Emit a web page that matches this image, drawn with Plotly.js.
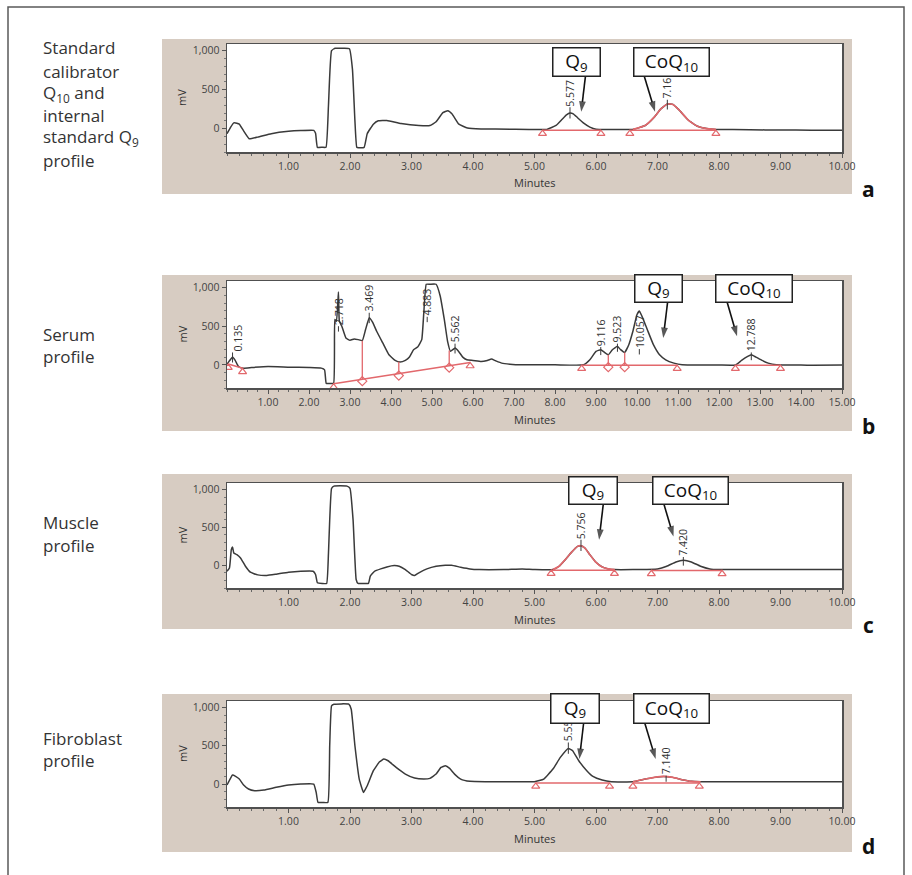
<!DOCTYPE html>
<html><head><meta charset="utf-8">
<script src="https://cdn.plot.ly/plotly-3.0.1.min.js"></script>
<style>html,body{margin:0;padding:0;background:#fff}#chart{width:912px;height:875px}</style>
</head><body><div id="chart"></div>
<script>
// ---------------- DATA ----------------
// Panel a: standard calibrator Q10 + internal standard Q9
const aMin = [0,0.06,0.11,0.16,0.2,0.27,0.36,0.5,0.72,1.0,1.2,1.41,1.44,1.47,1.55,1.61,1.65,1.7,1.76,1.9,1.99,2.04,2.08,2.11,2.14,2.23,2.28,2.38,2.46,2.6,2.83,3.12,3.3,3.4,3.51,3.59,3.66,3.77,3.91,4.13,4.6,5.2,5.35,5.45,5.52,5.577,5.63,5.7,5.8,5.9,6.0,6.3,6.6,6.8,6.95,7.05,7.16,7.25,7.35,7.5,7.65,7.8,7.95,8.5,9.0,9.5,10.0];
const aMv  = [-65,20,74,70,57,-30,-130,-109,-65,-35,-25,-22,-60,-240,-240,-240,300,1000,1030,1030,1025,760,100,-240,-245,-240,-65,57,100,105,65,39,39,87,204,230,187,57,9,-4,-8,-10,40,120,175,200,190,140,70,20,-8,-10,-10,40,150,250,315,310,240,110,30,0,-10,-15,-18,-20,-22];
const aRed = [6.55, 7.95];
const aBaseX0 = [5.13, 6.55], aBaseY0 = [-20, -20];
const aBaseX1 = [6.08, 7.95], aBaseY1 = [-20, -20];
const aPeakX = [5.577, 7.16], aPeakApex = [200, 315], aPeakLabelY = [274, 370];
const aPeakText = ['5.577', '7.16'];

// Panel b: serum
const bMin = [0,0.08,0.135,0.2,0.28,0.4,0.6,1.0,1.5,2.0,2.3,2.38,2.42,2.5,2.6,2.63,2.67,2.718,2.74,2.8,2.9,3.0,3.1,3.2,3.3,3.38,3.469,3.55,3.65,3.8,3.95,4.1,4.22,4.35,4.45,4.55,4.65,4.75,4.8,4.86,4.95,5.1,5.2,5.3,5.38,5.45,5.562,5.65,5.75,5.85,6.0,6.2,6.35,6.45,6.55,6.7,6.9,7.2,8.0,8.7,8.85,9.0,9.116,9.2,9.3,9.4,9.523,9.6,9.7,9.8,9.9,10.0,10.057,10.12,10.25,10.4,10.55,10.7,10.9,11.1,12.0,12.4,12.55,12.7,12.788,12.9,13.05,13.2,13.4,14.0,14.3,15.0];
const bMv  = [9,65,100,57,-22,-43,-35,-22,-30,-35,-43,-65,-240,-242,-240,587,565,943,565,500,348,317,335,326,313,457,609,552,435,283,130,57,35,57,100,196,230,326,674,1043,1043,1043,891,587,304,174,217,174,100,65,57,43,57,74,52,22,9,0,0,0,65,174,196,165,130,196,239,196,161,261,435,652,696,630,457,261,130,65,22,0,-3,-3,57,109,130,100,57,22,0,-3,-5,-3];
const bBaseX0 = [0.03, 2.6, 8.65, 12.4], bBaseY0 = [10, -245, -5, -5];
const bBaseX1 = [0.38, 5.93, 10.98, 13.5], bBaseY1 = [-45, 30, -5, -5];
const bDropX = [3.3, 4.19, 5.42, 9.3, 9.7];
const bDropTop = [313, 40, 185, 130, 161];
const bDropBottom = [-187, -114, -12, -5, -5];
const bPeakX = [0.135, 2.718, 3.469, 4.883, 5.562, 9.116, 9.523, 10.057, 12.788];
const bPeakApex = [100, 943, 609, 1043, 217, 196, 239, 696, 130];
const bPeakLabelY = [160, 500, 674, 622, 274, 230, 274, 204, 160];
const bPeakText = ['0.135','2.718','3.469','4.883','5.562','9.116','9.523','10.057','12.788'];

// Panel c: muscle
const cMin = [0,0.04,0.07,0.09,0.11,0.16,0.22,0.3,0.38,0.5,0.65,0.8,1.0,1.2,1.4,1.44,1.47,1.55,1.62,1.65,1.7,1.74,1.95,2.0,2.05,2.1,2.13,2.22,2.3,2.33,2.4,2.5,2.6,2.72,2.8,2.9,3.0,3.05,3.12,3.25,3.4,3.55,3.65,3.8,3.95,4.1,4.5,4.8,5.0,5.3,5.4,5.5,5.6,5.7,5.756,5.82,5.9,6.0,6.1,6.2,6.3,6.6,7.0,7.15,7.3,7.42,7.55,7.7,7.85,8.0,8.5,9.0,9.5,10.0];
const cMv  = [-79,-35,205,240,162,140,96,-13,-92,-127,-135,-118,-92,-79,-79,-122,-231,-240,-240,162,1013,1044,1044,1013,598,-188,-240,-240,-240,-144,-79,-48,-22,-4,-13,-57,-122,-135,-100,-48,-13,0,0,-26,-48,-57,-57,-50,-57,-57,-13,74,170,249,258,227,140,39,-22,-48,-57,-57,-48,-13,44,65,44,-13,-48,-57,-57,-55,-57,-57];
const cRed = [5.27, 6.3];
const cBaseX0 = [5.27, 6.9], cBaseY0 = [-65, -68];
const cBaseX1 = [6.3, 8.05], cBaseY1 = [-65, -68];
const cPeakX = [5.756, 7.42], cPeakApex = [258, 65], cPeakLabelY = [336, 109];
const cPeakText = ['5.756', '7.420'];

// Panel d: fibroblast
const dMin = [0,0.05,0.09,0.14,0.2,0.27,0.35,0.45,0.6,0.8,1.0,1.2,1.41,1.45,1.48,1.56,1.64,1.67,1.7,1.74,1.98,2.02,2.08,2.15,2.22,2.28,2.38,2.48,2.55,2.62,2.75,2.9,3.05,3.2,3.3,3.4,3.48,3.55,3.62,3.7,3.8,3.95,4.2,4.6,5.0,5.15,5.3,5.42,5.55,5.62,5.72,5.85,5.95,6.1,6.25,6.6,6.8,6.95,7.1,7.25,7.4,7.55,7.7,8.5,9.0,9.5,10.0];
const dMv  = [-13,65,117,100,65,-13,-65,-87,-78,-43,-13,0,0,-109,-240,-240,-240,500,1022,1043,1043,978,500,65,-109,-22,174,291,326,304,217,130,78,65,74,130,217,239,204,130,65,35,30,30,30,65,196,348,465,435,304,174,100,52,30,30,65,87,100,87,57,35,30,30,30,30,30];
const dRed = [6.6, 7.7];
const dBaseX0 = [5.02, 6.6], dBaseY0 = [14, 14];
const dBaseX1 = [6.22, 7.68], dBaseY1 = [14, 14];
const dPeakX = [5.55, 7.14], dPeakApex = [465, 100], dPeakLabelY = [543, 109];
const dPeakText = ['5.55', '7.140'];

const xTicks10 = [1,2,3,4,5,6,7,8,9,10];
const xTicks15 = [1,2,3,4,5,6,7,8,9,10,11,12,13,14,15];
const yTicks = [0, 500, 1000];
const yTickText = ['0', '500', '1,000'];

// ---------------- STYLE / LAYOUT ----------------
const W = 912, H = 875;
const FONT = 'Open Sans, DejaVu Sans, sans-serif';
const INK = '#3a3a3a', RED = '#e2686c', BEIGE = '#d7ccc2';
const px = v => v / W, py = v => 1 - v / H;
const PLOT_X = [227, 842];
const panels = [
  {plot:[44,152],  bg:[39,194],  xmax:10, ticks:xTicks10, letter:'a', letterY:189},
  {plot:[281,388], bg:[275,431], xmax:15, ticks:xTicks15, letter:'b', letterY:426},
  {plot:[483,588], bg:[474,629], xmax:10, ticks:xTicks10, letter:'c', letterY:625},
  {plot:[701,807], bg:[694,852], xmax:10, ticks:xTicks10, letter:'d', letterY:846}
];
const YR = [-300, 1085];
const MOFF = 45; // marker offset below baselines (mV)

const data = [
  {min:aMin, mv:aMv, red:aRed, bx0:aBaseX0, by0:aBaseY0, bx1:aBaseX1, by1:aBaseY1, pk:aPeakX, ap:aPeakApex, ly:aPeakLabelY, pt:aPeakText},
  {min:bMin, mv:bMv, red:null, bx0:bBaseX0, by0:bBaseY0, bx1:bBaseX1, by1:bBaseY1, pk:bPeakX, ap:bPeakApex, ly:bPeakLabelY, pt:bPeakText,
   dropX:bDropX, dropTop:bDropTop, dropBot:bDropBottom},
  {min:cMin, mv:cMv, red:cRed, bx0:cBaseX0, by0:cBaseY0, bx1:cBaseX1, by1:cBaseY1, pk:cPeakX, ap:cPeakApex, ly:cPeakLabelY, pt:cPeakText},
  {min:dMin, mv:dMv, red:dRed, bx0:dBaseX0, by0:dBaseY0, bx1:dBaseX1, by1:dBaseY1, pk:dPeakX, ap:dPeakApex, ly:dPeakLabelY, pt:dPeakText}
];

// annotation boxes (centre in data units, size in px) and arrows (tail -> tip)
const boxes = [
  [{t:'Q<sub>9</sub>', cx:5.675, cy:857, w:46, h:27, tx:5.83, ty:683, hx:5.76, hy:217},
   {t:'CoQ<sub>10</sub>', cx:7.235, cy:857, w:74, h:27, tx:6.78, ty:683, hx:6.96, hy:217}],
  [{t:'Q<sub>9</sub>', cx:10.525, cy:989, w:46, h:26, tx:10.75, ty:826, hx:10.64, hy:348},
   {t:'CoQ<sub>10</sub>', cx:12.865, cy:989, w:75, h:26, tx:12.19, ty:826, hx:12.44, hy:370}],
  [{t:'Q<sub>9</sub>', cx:5.95, cy:980, w:47, h:26, tx:6.12, ty:817, hx:6.05, hy:336},
   {t:'CoQ<sub>10</sub>', cx:7.53, cy:980, w:74, h:26, tx:7.1, ty:817, hx:7.26, hy:380}],
  [{t:'Q<sub>9</sub>', cx:5.66, cy:989, w:47, h:28, tx:5.8, ty:804, hx:5.73, hy:326},
   {t:'CoQ<sub>10</sub>', cx:7.22, cy:989, w:74, h:28, tx:6.79, ty:804, hx:6.97, hy:326}]
];

const sideLabels = [
  {lines:['Standard','calibrator','Q<sub>10</sub> and','internal','standard Q<sub>9</sub>','profile'], ys:[48,71,93,116,138,161]},
  {lines:['Serum','profile'], ys:[335,357]},
  {lines:['Muscle','profile'], ys:[522,545]},
  {lines:['Fibroblast','profile'], ys:[738,760]}
];

const traces = [];
const layout = {
  width: W, height: H, margin:{l:0,r:0,t:0,b:0}, showlegend:false,
  paper_bgcolor:'#fff', plot_bgcolor:'#fff', shapes:[], annotations:[],
  font:{family:FONT, color:'#333'}
};

panels.forEach((p, i) => {
  const k = i + 1;
  const xa = k === 1 ? 'x' : 'x' + k, ya = k === 1 ? 'y' : 'y' + k;
  const xn = k === 1 ? 'xaxis' : 'xaxis' + k, yn = k === 1 ? 'yaxis' : 'yaxis' + k;
  const d = data[i];
  layout[xn] = {
    domain:[px(PLOT_X[0]), px(PLOT_X[1])], range:[0, p.xmax], anchor:ya,
    tickmode:'array', tickvals:p.ticks, ticktext:p.ticks.map(v => v.toFixed(2)),
    ticks:'outside', ticklen:4, tickwidth:1, tickcolor:'#555',
    minor:{tickmode:'linear', tick0:0, dtick: p.xmax === 15 ? 0.25 : 0.2, ticks:'outside', ticklen:2, tickcolor:'#666', showgrid:false},
    showline:true, linecolor:'#505050', linewidth:1.5, mirror:true,
    showgrid:false, zeroline:false, fixedrange:true,
    tickfont:{family:FONT, size:10.5, color:'#444'}
  };
  layout[yn] = {
    domain:[py(p.plot[1]), py(p.plot[0])], range:YR, anchor:xa,
    tickmode:'array', tickvals:yTicks, ticktext:yTickText,
    ticks:'outside', ticklen:4, tickwidth:1, tickcolor:'#555',
    minor:{tickmode:'linear', tick0:0, dtick:100, ticks:'outside', ticklen:2, tickcolor:'#777', showgrid:false},
    showline:true, linecolor:'#505050', linewidth:1.5, mirror:true,
    showgrid:false, zeroline:false, fixedrange:true,
    tickfont:{family:FONT, size:10.5, color:'#444'}
  };
  // backgrounds
  layout.shapes.push({type:'rect', xref:'paper', yref:'paper', layer:'below',
    x0:px(162), x1:px(852), y0:py(p.bg[1]), y1:py(p.bg[0]), fillcolor:BEIGE, line:{width:0}});
  layout.shapes.push({type:'rect', xref:'paper', yref:'paper', layer:'below',
    x0:px(PLOT_X[0]), x1:px(PLOT_X[1]), y0:py(p.plot[1]), y1:py(p.plot[0]), fillcolor:'#fff', line:{width:0}});

  // main chromatogram
  traces.push({x:d.min, y:d.mv, xaxis:xa, yaxis:ya, mode:'lines', hoverinfo:'skip',
    line:{color:INK, width:1.5, shape:'spline', smoothing:0.35}});
  // red integrated peak
  if (d.red) {
    const idx = d.min.map((v, j) => j).filter(j => d.min[j] >= d.red[0] && d.min[j] <= d.red[1]);
    traces.push({x:idx.map(j => d.min[j]), y:idx.map(j => d.mv[j]), xaxis:xa, yaxis:ya, mode:'lines', hoverinfo:'skip',
      line:{color:RED, width:1.6, shape:'spline', smoothing:0.35}});
  }
  // baselines
  const bx = [], by = [], tx = [], ty = [];
  d.bx0.forEach((v, j) => {
    bx.push(v, d.bx1[j], null); by.push(d.by0[j], d.by1[j], null);
    tx.push(v, d.bx1[j]); ty.push(d.by0[j] - MOFF, d.by1[j] - MOFF);
  });
  traces.push({x:bx, y:by, xaxis:xa, yaxis:ya, mode:'lines', hoverinfo:'skip', line:{color:RED, width:1.5}});
  // drop lines & diamonds (serum)
  if (d.dropX) {
    const dx = [], dy = [];
    d.dropX.forEach((v, j) => { dx.push(v, v, null); dy.push(d.dropTop[j], d.dropBot[j], null); });
    traces.push({x:dx, y:dy, xaxis:xa, yaxis:ya, mode:'lines', hoverinfo:'skip', line:{color:RED, width:1.3}});
    traces.push({x:d.dropX, y:d.dropBot.map(v => v - 25), xaxis:xa, yaxis:ya, mode:'markers', hoverinfo:'skip',
      marker:{symbol:'diamond-open', size:7, color:RED, line:{width:1.2, color:RED}}});
  }
  traces.push({x:tx, y:ty, xaxis:xa, yaxis:ya, mode:'markers', hoverinfo:'skip',
    marker:{symbol:'triangle-up-open', size:7, color:RED, line:{width:1.2, color:RED}}});
  // peak apex ticks
  const kx = [], ky = [];
  d.pk.forEach((v, j) => { kx.push(v, v, null); ky.push(d.ly[j], Math.min(d.ap[j], d.ly[j]) - 70, null); });
  traces.push({x:kx, y:ky, xaxis:xa, yaxis:ya, mode:'lines', hoverinfo:'skip', line:{color:INK, width:1}});
  // peak labels
  d.pk.forEach((v, j) => {
    layout.annotations.push({xref:xa, yref:ya, x:v, y:d.ly[j], text:d.pt[j], showarrow:false,
      textangle:-90, xanchor:'center', yanchor:'bottom', borderpad:0,
      xshift: (k === 2 && j === 0) ? 5 : 0,
      font:{family:FONT, size:10.5, color:'#333'}});
  });
  // arrows (line + arrow-head marker pointing along the segment)
  boxes[i].forEach(b => {
    traces.push({x:[b.tx, b.hx], y:[b.ty, b.hy], xaxis:xa, yaxis:ya, mode:'lines+markers', hoverinfo:'skip',
      line:{color:'#111', width:1.6},
      marker:{symbol:['circle', 'arrow'], size:[0, 11], angleref:'previous', color:'#111', line:{width:0}}});
  });
  // boxes
  boxes[i].forEach(b => {
    layout.annotations.push({xref:xa, yref:ya, x:b.cx, y:b.cy, text:b.t, showarrow:false,
      width:b.w, height:b.h, borderpad:0, bgcolor:'#fff', bordercolor:'#222', borderwidth:1.5,
      xanchor:'center', yanchor:'middle', font:{family:FONT, size:19, color:'#111'}});
  });
  // axis titles
  layout.annotations.push({xref:'paper', yref:'paper', x:px((PLOT_X[0] + PLOT_X[1]) / 2), y:py(p.plot[1] + 31),
    text:'Minutes', showarrow:false, xanchor:'center', yanchor:'middle', font:{family:FONT, size:11, color:'#333'}});
  layout.annotations.push({xref:'paper', yref:'paper', x:px(182), y:py((p.plot[0] + p.plot[1]) / 2),
    text:'mV', showarrow:false, textangle:-90, xanchor:'center', yanchor:'middle', font:{family:FONT, size:11, color:'#333'}});
  // panel letter
  layout.annotations.push({xref:'paper', yref:'paper', x:px(868), y:py(p.letterY),
    text:'<b>' + p.letter + '</b>', showarrow:false, xanchor:'center', yanchor:'middle',
    font:{family:FONT, size:21, color:'#111'}});
  // side labels
  sideLabels[i].lines.forEach((t, j) => {
    layout.annotations.push({xref:'paper', yref:'paper', x:px(41), y:py(sideLabels[i].ys[j]),
      text:t, showarrow:false, xanchor:'left', yanchor:'middle', font:{family:FONT, size:17, color:'#333'}});
  });
});

// outer frame
layout.shapes.push({type:'rect', xref:'paper', yref:'paper', layer:'above',
  x0:px(8), x1:px(904), y0:-0.05, y1:py(7), line:{color:'#5a5a5a', width:1.5}, fillcolor:'rgba(0,0,0,0)'});

Plotly.newPlot('chart', traces, layout, {staticPlot:true, displayModeBar:false});
</script>
</body></html>
